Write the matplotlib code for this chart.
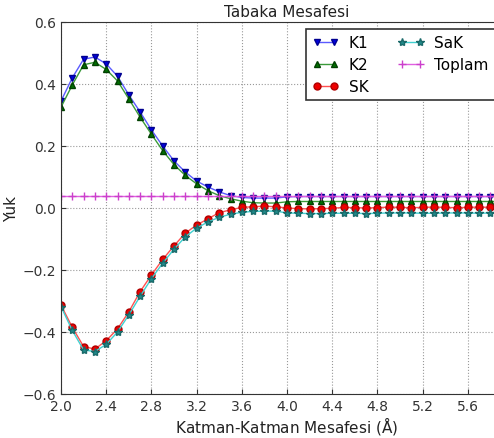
import numpy as np
import matplotlib
matplotlib.use("Agg")
import matplotlib.pyplot as plt

x = [round(2.0 + 0.1 * i, 1) for i in range(41)]

k1 = [0.345, 0.420, 0.480, 0.487, 0.465, 0.425, 0.365, 0.310, 0.252, 0.200,
      0.152, 0.116, 0.087, 0.068, 0.052, 0.040, 0.034, 0.032, 0.032, 0.032,
      0.036, 0.037, 0.037, 0.037, 0.037, 0.037, 0.037, 0.037, 0.037, 0.037,
      0.037, 0.037, 0.037, 0.037, 0.037, 0.037, 0.037, 0.037, 0.037, 0.037, 0.037]
k2 = [0.325, 0.397, 0.462, 0.470, 0.447, 0.410, 0.352, 0.293, 0.238, 0.185,
      0.140, 0.105, 0.078, 0.056, 0.040, 0.030, 0.022, 0.017, 0.016, 0.016,
      0.020, 0.021, 0.021, 0.021, 0.021, 0.021, 0.021, 0.021, 0.021, 0.021,
      0.021, 0.021, 0.021, 0.021, 0.021, 0.021, 0.021, 0.021, 0.021, 0.021, 0.021]
sk = [-0.313, -0.385, -0.447, -0.455, -0.428, -0.390, -0.335, -0.270, -0.216, -0.166,
      -0.122, -0.081, -0.055, -0.035, -0.015, -0.006, 0.002, 0.004, 0.006, 0.004,
      0.000, -0.002, -0.003, -0.002, -0.001, 0.002, 0.001, 0.000, 0.001, 0.003,
      0.002, 0.001, 0.002, 0.003, 0.002, 0.001, 0.002, 0.003, 0.002, 0.001, 0.002]
sak = [-0.318, -0.395, -0.458, -0.463, -0.440, -0.400, -0.345, -0.285, -0.228, -0.178,
       -0.133, -0.093, -0.065, -0.045, -0.030, -0.020, -0.014, -0.011, -0.010, -0.010,
       -0.016, -0.017, -0.018, -0.018, -0.017, -0.017, -0.017, -0.018, -0.017, -0.016,
       -0.016, -0.016, -0.017, -0.017, -0.016, -0.016, -0.016, -0.017, -0.016, -0.016, -0.016]
toplam = [0.038] * 41

xticks = [2.0, 2.4, 2.8, 3.2, 3.6, 4.0, 4.4, 4.8, 5.2, 5.6]
yticks = [-0.6, -0.4, -0.2, 0.0, 0.2, 0.4, 0.6]

fig = plt.figure(figsize=(4.94, 4.39), dpi=100)
ax = fig.add_axes([61 / 494, 44 / 439, 452 / 494, 372 / 439])

ms = 5
ax.plot(x, k1, color='#5a5aff', marker='v', ms=ms, lw=1, mfc='#0000e0', mec='#000090', label='K1')
ax.plot(x, k2, color='#3a9a3a', marker='^', ms=ms, lw=1, mfc='#007000', mec='#004000', label='K2')
ax.plot(x, sk, color='#ff5050', marker='o', ms=ms, lw=1, mfc='#ee0000', mec='#b00000', label='SK')
ax.plot(x, sak, color='#40d0d0', marker='*', ms=ms + 1, lw=1, mfc='#208a8a', mec='#1a6a6a', label='SaK')
ax.plot(x, toplam, color='#e060e0', marker='+', ms=ms + 1, lw=1, mec='#cc40cc', label='Toplam')

ax.set_xlim(2.0, 6.0)
ax.set_ylim(-0.6, 0.6)
ax.set_xticks(xticks)
ax.set_yticks(yticks)
ax.set_xticklabels([f"{t:.1f}" for t in xticks])
ax.set_yticklabels(["\u22120.6", "\u22120.4", "\u22120.2", "0.0", "0.2", "0.4", "0.6"])
ax.tick_params(direction='in', labelsize=10, colors='#333333', labelcolor='#333333')
ax.grid(True, linestyle=':', color='#999999', lw=0.8)
for s in ax.spines.values():
    s.set_color('#333333')

ax.set_title("Tabaka Mesafesi", fontsize=11, color='#222222', pad=4)
ax.set_xlabel("Katman-Katman Mesafesi ($\\mathrm{\\AA}$)", fontsize=11, color='#222222', labelpad=1)
ax.set_ylabel("Yuk", fontsize=11, color='#222222')
ax.yaxis.set_label_coords(-0.093, 0.5)

leg = ax.legend(loc='upper left', bbox_to_anchor=(306 / 494, 1 - 30 / 439),
                bbox_transform=fig.transFigure, borderaxespad=0,
                ncol=2, fontsize=11, fancybox=False, numpoints=2,
                handlelength=1.75, columnspacing=1.9, borderpad=0.4,
                handletextpad=0.65, labelspacing=0.45, framealpha=1)
leg.get_frame().set_edgecolor('#333333')
leg.get_frame().set_linewidth(1.2)

fig.savefig("out.png", dpi=100)
